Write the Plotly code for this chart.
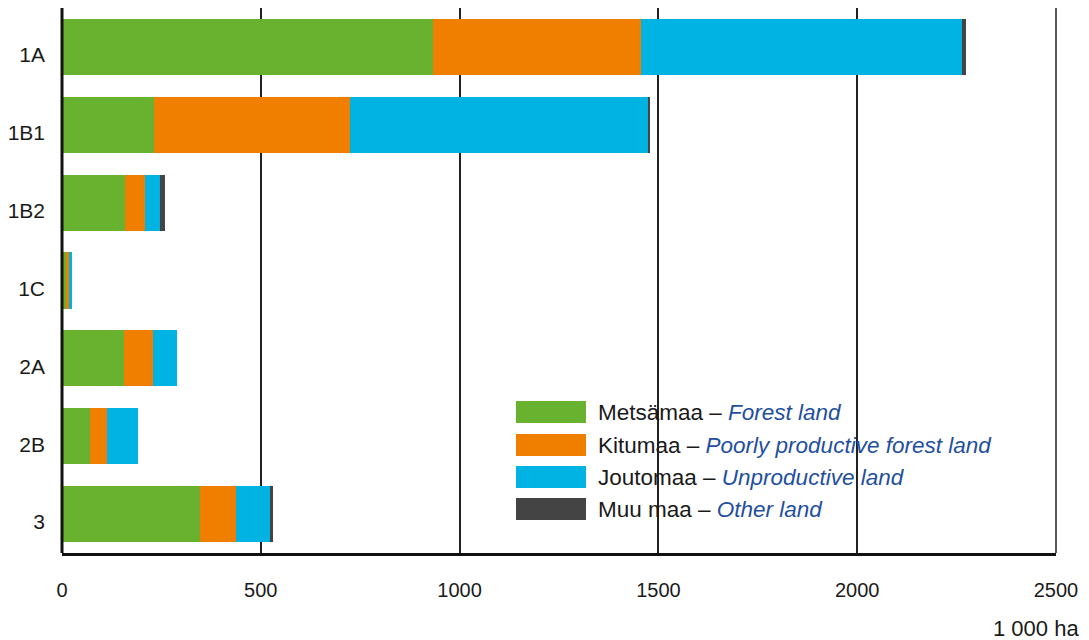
import plotly.graph_objects as go

categories = ["1A", "1B1", "1B2", "1C", "2A", "2B", "3"]
forest_land = [933, 231, 159, 10, 155, 71, 346]
poorly_productive = [523, 493, 50, 8, 75, 43, 91]
unproductive = [807, 750, 38, 8, 58, 78, 87]
other_land = [10, 3, 13, 0, 0, 0, 7]
x_ticks = [0, 500, 1000, 1500, 2000, 2500]

series = [
    ("Metsämaa", "Forest land", forest_land, "#68b22f"),
    ("Kitumaa", "Poorly productive forest land", poorly_productive, "#f07f00"),
    ("Joutomaa", "Unproductive land", unproductive, "#00b3e3"),
    ("Muu maa", "Other land", other_land, "#444444"),
]

fig = go.Figure()
for fi, en, vals, col in series:
    fig.add_trace(go.Bar(
        y=categories, x=vals, orientation="h", name=f"{fi} – {en}",
        marker=dict(color=col, line=dict(width=0)), showlegend=False,
    ))

# page offset (body margin) compensation
OFF = 8
FW, FH = 1089 - OFF, 640 - OFF
# target plot area in page pixels
L, R, T, B = 62, 1056, 8, 553
W, H = R - L, B - T
def px(x):
    return (x - L) / W
def py(y):
    return (B - y) / H

rows = [412, 445, 477, 509]
for (fi, en, vals, col), yc in zip(series, rows):
    fig.add_shape(type="rect", xref="paper", yref="paper",
                  x0=px(516), x1=px(586), y0=py(yc + 11), y1=py(yc - 11),
                  fillcolor=col, line=dict(width=0))
    fig.add_annotation(xref="paper", yref="paper", x=px(596), y=py(yc),
                       xanchor="left", yanchor="middle", showarrow=False,
                       text=f"{fi} – <i><span style='color:#1f4f9e'>{en}</span></i>",
                       font=dict(family="Liberation Sans, Arial", size=22.5, color="#1a1a1a"))

fig.add_annotation(xref="paper", yref="paper", x=px(1081), y=py(628),
                   xanchor="right", yanchor="middle", showarrow=False,
                   text="1 000 ha",
                   font=dict(family="Liberation Sans, Arial", size=22, color="#1a1a1a"))

fig.update_layout(
    barmode="stack", bargap=0.28,
    width=FW, height=FH,
    margin=dict(l=L - OFF, r=FW - (R - OFF), t=T - OFF, b=FH - (B - OFF), pad=0, autoexpand=False),
    plot_bgcolor="white", paper_bgcolor="white",
    xaxis=dict(range=[0, 2500], tickvals=x_ticks, showgrid=True, automargin=False,
               gridcolor="#222222", gridwidth=1.5, zeroline=False,
               showline=True, linecolor="#111111", linewidth=2.5,
               ticks="", ticklabelstandoff=17,
               tickfont=dict(family="Liberation Sans, Arial", size=20, color="#1a1a1a")),
    yaxis=dict(categoryorder="array", categoryarray=categories, autorange="reversed",
               showgrid=False, zeroline=False, showline=False, ticks="", automargin=False,
               ticklabelstandoff=16, ticklabelshift=-8,
               tickfont=dict(family="Liberation Sans, Arial", size=21, color="#1a1a1a")),
)
fig.add_shape(type="line", xref="paper", yref="paper", x0=0, x1=0, y0=0, y1=1,
              line=dict(color="#111111", width=3))
fig.add_shape(type="line", xref="paper", yref="paper", x0=1, x1=1, y0=0, y1=1,
              line=dict(color="#222222", width=1.5), layer="below")

fig.write_html("out.html")
